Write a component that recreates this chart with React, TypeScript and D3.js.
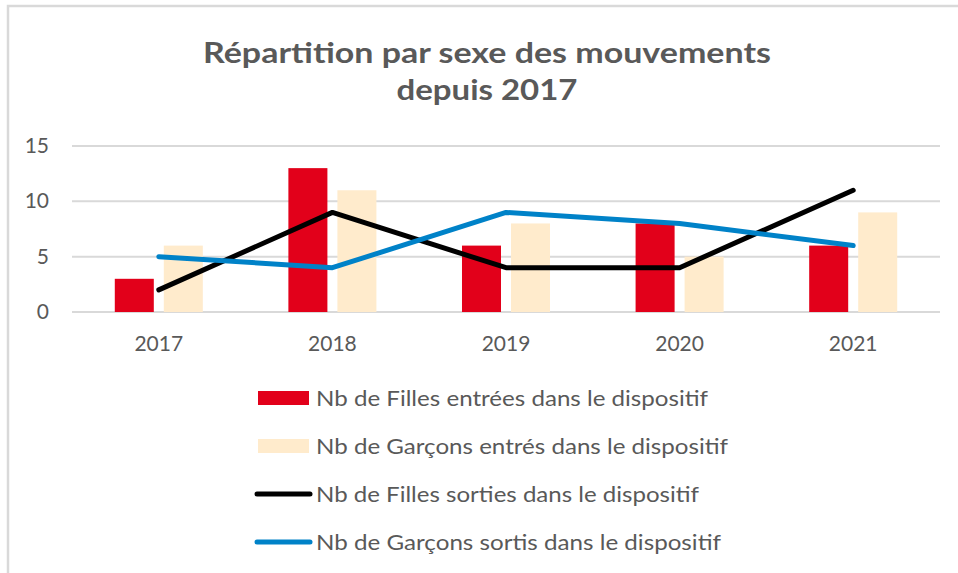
import React, { useEffect, useRef } from 'react'
import * as d3 from 'd3'

const years = ['2017', '2018', '2019', '2020', '2021']
const fillesEntrees = [3, 13, 6, 8, 6]
const garconsEntres = [6, 11, 8, 5, 9]
const fillesSorties = [2, 9, 4, 4, 11]
const garconsSortis = [5, 4, 9, 8, 6]
const yTicks = [0, 5, 10, 15]

const legendLabels = [
  'Nb de Filles entrées dans le dispositif',
  'Nb de Garçons entrés dans le dispositif',
  'Nb de Filles sorties dans le dispositif',
  'Nb de Garçons sortis dans le dispositif',
]

const RED = '#e2001a'
const BEIGE = '#ffebcc'
const BLACK = '#000000'
const BLUE = '#0082c8'
const TEXT = '#595959'
const FONT = 'Lato, "Open Sans", sans-serif'

const App = () => {
  const svgRef = useRef<SVGSVGElement>(null)

  useEffect(() => {
    document.body.style.margin = '0'
    const svg = d3.select(svgRef.current)
    svg.selectAll('*').remove()

    const width = 958
    const height = 573
    svg.attr('width', width).attr('height', height).style('display', 'block').style('background', '#fff')

    // outer frame (cropped on right and bottom)
    svg.append('path')
      .attr('d', `M8,${height} V6 H${width}`)
      .attr('fill', 'none')
      .attr('stroke', '#d9d9d9')
      .attr('stroke-width', 2.5)

    // title
    const title = svg.append('text')
      .attr('text-anchor', 'middle')
      .attr('fill', TEXT)
      .style('font-family', FONT)
      .style('font-weight', 'bold')
      .style('font-size', '28px')
    title.append('tspan').attr('x', 487).attr('y', 63)
      .attr('textLength', 568).attr('lengthAdjust', 'spacingAndGlyphs')
      .text('Répartition par sexe des mouvements')
    title.append('tspan').attr('x', 487).attr('y', 100)
      .attr('textLength', 181).attr('lengthAdjust', 'spacingAndGlyphs')
      .text('depuis 2017')

    const x0 = d3.scaleBand().domain(years).range([72, 940])
    const x1 = d3.scaleBand().domain(['f', 'g']).range([0, x0.bandwidth()])
      .paddingInner(0.204).paddingOuter(0.873)
    const y = d3.scaleLinear().domain([0, 15]).range([312, 146])

    // gridlines
    svg.append('g').selectAll('line').data(yTicks).join('line')
      .attr('x1', 72).attr('x2', 940)
      .attr('y1', d => y(d)).attr('y2', d => y(d))
      .attr('stroke', '#d9d9d9').attr('stroke-width', 2)

    // y tick labels
    svg.append('g').selectAll('text').data(yTicks).join('text')
      .attr('x', 49).attr('y', d => y(d) + 7)
      .attr('text-anchor', 'end')
      .attr('fill', TEXT)
      .style('font-family', FONT).style('font-size', '21px')
      .text(d => d)

    // x labels
    svg.append('g').selectAll('text').data(years).join('text')
      .attr('x', d => (x0(d) as number) + x0.bandwidth() / 2)
      .attr('y', 351)
      .attr('text-anchor', 'middle')
      .attr('fill', TEXT)
      .style('font-family', FONT).style('font-size', '21px')
      .text(d => d)

    // bars
    const barSeries = [
      { key: 'f', values: fillesEntrees, color: RED },
      { key: 'g', values: garconsEntres, color: BEIGE },
    ]
    barSeries.forEach(s => {
      svg.append('g').selectAll('rect').data(s.values).join('rect')
        .attr('x', (d, i) => (x0(years[i]) as number) + (x1(s.key) as number))
        .attr('width', x1.bandwidth())
        .attr('y', d => y(d))
        .attr('height', d => y(0) - y(d))
        .attr('fill', s.color)
    })

    // lines
    const line = d3.line<number>()
      .x((d, i) => (x0(years[i]) as number) + x0.bandwidth() / 2)
      .y(d => y(d))
    const lineSeries = [
      { values: fillesSorties, color: BLACK },
      { values: garconsSortis, color: BLUE },
    ]
    lineSeries.forEach(s => {
      svg.append('path')
        .datum(s.values)
        .attr('d', line)
        .attr('fill', 'none')
        .attr('stroke', s.color)
        .attr('stroke-width', 5)
        .attr('stroke-linejoin', 'round')
        .attr('stroke-linecap', 'round')
    })

    // legend
    const legendColors = [RED, BEIGE, BLACK, BLUE]
    const legendWidths = [392, 412, 383, 405]
    const rowY = d3.scaleLinear().domain([0, 3]).range([398, 542])
    const lg = svg.append('g')
    legendLabels.forEach((label, i) => {
      const cy = rowY(i)
      if (i < 2) {
        lg.append('rect')
          .attr('x', 258).attr('y', cy - 7)
          .attr('width', 51).attr('height', 14)
          .attr('fill', legendColors[i])
      } else {
        lg.append('line')
          .attr('x1', 257).attr('x2', 310)
          .attr('y1', cy).attr('y2', cy)
          .attr('stroke', legendColors[i])
          .attr('stroke-width', 5)
          .attr('stroke-linecap', 'round')
      }
      lg.append('text')
        .attr('x', 316).attr('y', cy + 7.5)
        .attr('fill', TEXT)
        .attr('textLength', legendWidths[i]).attr('lengthAdjust', 'spacingAndGlyphs')
        .style('font-family', FONT).style('font-size', '21px')
        .text(label)
    })
  }, [])

  return <svg ref={svgRef} />
}

export default App
